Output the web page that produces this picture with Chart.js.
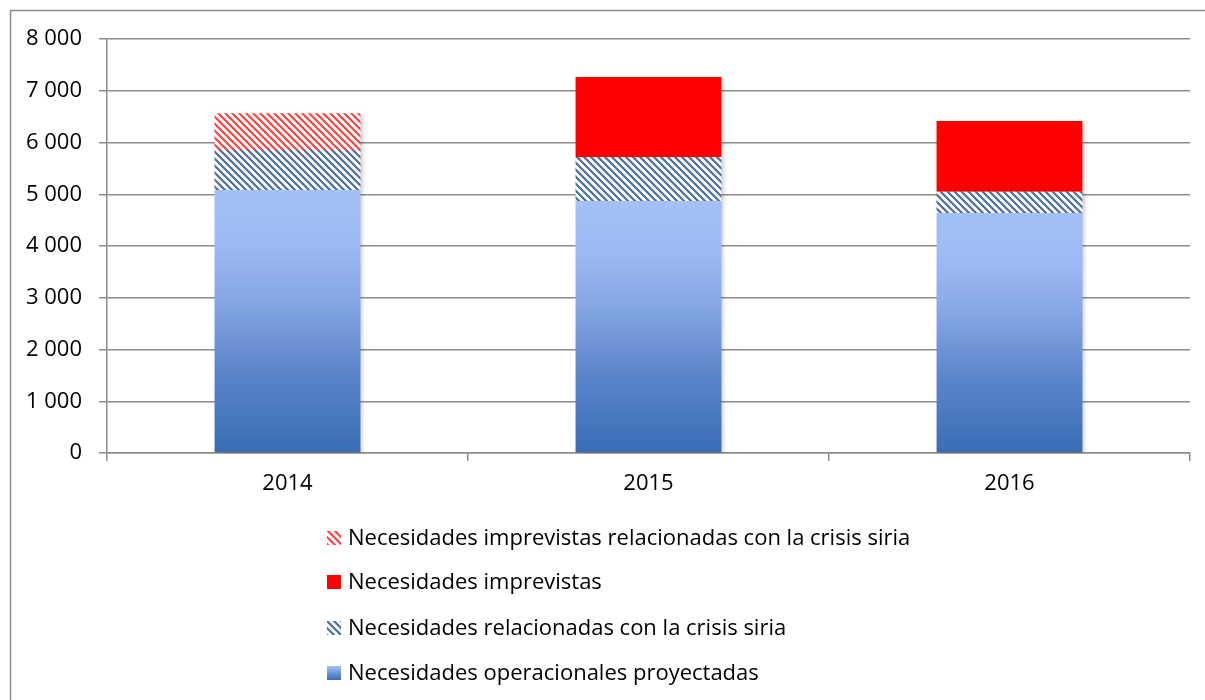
<!DOCTYPE html>
<html>
<head>
<meta charset="utf-8">
<script src="https://cdn.jsdelivr.net/npm/chart.js@4/dist/chart.umd.min.js"></script>
<style>
  html, body { margin: 0; padding: 0; background: #fff; }
  #wrap { position: relative; width: 1205px; height: 700px; }
</style>
</head>
<body>
<div id="wrap"><canvas id="c" width="1205" height="700"></canvas></div>
<script>
const categories = ['2014', '2015', '2016'];
const operacionales = [5080, 4870, 4640];
const crisisSiria = [775, 850, 410];
const imprevistas = [null, 1545, 1365];
const imprevistasSiria = [710, null, null];
const seriesNames = [
  'Necesidades operacionales proyectadas',
  'Necesidades relacionadas con la crisis siria',
  'Necesidades imprevistas',
  'Necesidades imprevistas relacionadas con la crisis siria'
];
const yMin = 0, yMax = 8000, yStep = 1000;

const FONT = '"Open Sans", Lato, sans-serif';
const FSIZE = 22;

function hatch(color) {
  const s = 7;
  const c = document.createElement('canvas');
  c.width = s; c.height = s;
  const g = c.getContext('2d');
  g.fillStyle = '#fff';
  g.fillRect(0, 0, s, s);
  g.strokeStyle = color;
  g.lineWidth = 2.2;
  g.beginPath();
  g.moveTo(-2, -2); g.lineTo(s + 2, s + 2);
  g.moveTo(-2 - s, -2); g.lineTo(2, s + 2);
  g.moveTo(s - 2, -2); g.lineTo(2 * s + 2, s + 2);
  g.stroke();
  return g.createPattern(c, 'repeat');
}
const ctx = document.getElementById('c').getContext('2d');
const blueHatch = hatch('#4a6d9f');
const redHatch = hatch('#ff4040');

function blueGrad(context) {
  const chart = context.chart;
  const area = chart.chartArea;
  if (!area || !chart.scales.y) return '#8aa9e6';
  const v = context.raw;
  const y = chart.scales.y;
  const top = y.getPixelForValue(typeof v === 'number' ? v : 5000);
  const bot = y.getPixelForValue(0);
  const g = chart.ctx.createLinearGradient(0, bot, 0, top);
  g.addColorStop(0, '#3a6db4');
  g.addColorStop(0.3, '#5a84c9');
  g.addColorStop(0.6, '#88a8e6');
  g.addColorStop(0.8, '#9dbaf3');
  g.addColorStop(1, '#a3c0f6');
  return g;
}

const framePlugin = {
  id: 'frame',
  beforeDraw(chart) {
    const c = chart.ctx;
    c.save();
    c.fillStyle = '#fff';
    c.fillRect(0, 0, chart.width, chart.height);
    c.strokeStyle = '#8c8c8c';
    c.lineWidth = 1.5;
    c.beginPath();
    c.moveTo(10.5, 700);
    c.lineTo(10.5, 10.5);
    c.lineTo(1205, 10.5);
    c.stroke();
    c.restore();
  }
};

const shadowPlugin = {
  id: 'barShadow',
  beforeDatasetsDraw(chart) {
    const c = chart.ctx;
    c.save();
    c.shadowColor = 'rgba(0,0,0,0.22)';
    c.shadowBlur = 4;
    c.shadowOffsetX = 2;
    c.shadowOffsetY = 2;
  },
  afterDatasetsDraw(chart) {
    chart.ctx.restore();
  }
};

const legendPlugin = {
  id: 'vlegend',
  afterDraw(chart) {
    const c = chart.ctx;
    const ds = chart.data.datasets.slice().reverse();
    const ys = [538, 582, 628, 673];
    c.save();
    c.font = FSIZE + 'px ' + FONT;
    c.textBaseline = 'middle';
    c.textAlign = 'left';
    ds.forEach((d, i) => {
      const y = ys[i];
      let fill = d.legendFill;
      if (fill === 'grad') {
        const g = c.createLinearGradient(0, y - 7, 0, y + 7);
        g.addColorStop(0, '#a3c0f6');
        g.addColorStop(1, '#3a6db4');
        fill = g;
      }
      c.fillStyle = fill;
      c.fillRect(327, y - 7, 14, 14);
      c.fillStyle = '#000';
      c.fillText(d.label, 348, y + 1);
    });
    c.restore();
  }
};

function fmt(v) {
  return String(v).replace(/\B(?=(\d{3})+(?!\d))/g, ' ');
}

new Chart(ctx, {
  type: 'bar',
  data: {
    labels: categories,
    datasets: [
      { label: seriesNames[0], data: operacionales, backgroundColor: blueGrad, legendFill: 'grad' },
      { label: seriesNames[1], data: crisisSiria, backgroundColor: blueHatch, legendFill: blueHatch },
      { label: seriesNames[2], data: imprevistas, backgroundColor: '#ff0000', legendFill: '#ff0000' },
      { label: seriesNames[3], data: imprevistasSiria, backgroundColor: redHatch, legendFill: redHatch }
    ]
  },
  options: {
    responsive: false,
    animation: false,
    devicePixelRatio: 1,
    datasets: { bar: { barPercentage: 0.404, categoryPercentage: 1.0, borderWidth: 0 } },
    layout: { padding: { top: 39, right: 15, left: 0, bottom: 0 } },
    plugins: {
      legend: { display: false },
      tooltip: { enabled: false }
    },
    scales: {
      x: {
        stacked: true,
        offset: true,
        grid: { display: true, offset: true, drawOnChartArea: false, drawTicks: true, tickLength: 8, color: '#8c8c8c', lineWidth: 1.5 },
        border: { display: true, color: '#8c8c8c', width: 1.5 },
        ticks: { color: '#000', font: { family: FONT, size: FSIZE }, padding: 10 },
        afterFit(scale) { scale.height = 247; }
      },
      y: {
        stacked: true,
        min: yMin, max: yMax,
        ticks: { stepSize: yStep, color: '#000', font: { family: FONT, size: FSIZE }, padding: 17, callback: v => fmt(v) },
        grid: { color: '#8c8c8c', lineWidth: 1.5, tickLength: 8, drawTicks: true },
        border: { display: true, color: '#8c8c8c', width: 1.5 },
        afterFit(scale) { scale.width = 107; }
      }
    }
  },
  plugins: [framePlugin, shadowPlugin, legendPlugin]
});
</script>
</body>
</html>
